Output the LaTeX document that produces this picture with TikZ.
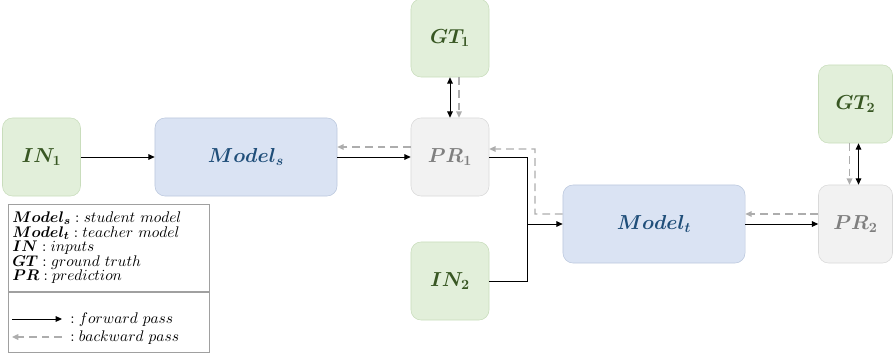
\documentclass[tikz,border=0pt]{standalone}
\usepackage{amsmath,amssymb}
\usetikzlibrary{arrows.meta}

\definecolor{ingreen}{HTML}{E2EFDA}
\definecolor{inborder}{HTML}{C9DDBC}
\definecolor{intext}{HTML}{385723}
\definecolor{modelblue}{HTML}{DAE3F3}
\definecolor{modelborder}{HTML}{BCC9DE}
\definecolor{modeltext}{HTML}{1F4E79}
\definecolor{predgray}{HTML}{F2F2F2}
\definecolor{predborder}{HTML}{D9D9D9}
\definecolor{predtext}{HTML}{7F7F7F}
\definecolor{backgray}{HTML}{ADADAD}
\definecolor{legendline}{HTML}{A0A0A0}

\begin{document}
\begin{tikzpicture}[x=0.025cm, y=-0.025cm,
	box/.style={rounded corners=0.25cm, draw, line width=0.4pt, minimum height=1.95cm,
		inner sep=0pt, font=\Large},
	inbox/.style={box, fill=ingreen, draw=inborder, text=intext, minimum width=1.95cm},
	modelbox/.style={box, fill=modelblue, draw=modelborder, text=modeltext, minimum width=4.55cm},
	predbox/.style={box, fill=predgray, draw=predborder, text=predtext, minimum width=1.95cm},
	fwd/.style={-{Triangle[length=4.5pt,width=4pt]}, line width=0.7pt, black},
	both/.style={{Triangle[length=4.5pt,width=4pt]}-{Triangle[length=4.5pt,width=4pt]}},
	bwd/.style={-{Triangle[length=4.5pt,width=4pt]}, line width=1pt, backgray,
		dash pattern=on 5.5pt off 3.5pt},
	legendtext/.style={inner sep=0pt, font=\fontsize{11}{10.4}\selectfont},
	legendbox/.style={draw=legendline, line width=0.6pt}]
	
	\useasboundingbox (0,0) rectangle (893,360);
	
	% boxes
	\node[inbox] (in1) at (41.5,157) {$\boldsymbol{IN_1}$};
	\node[modelbox] (models) at (246,157) {$\boldsymbol{Model_s}$};
	\node[predbox] (pr1) at (450,157) {$\boldsymbol{PR_1}$};
	\node[inbox] (gt1) at (450,38) {$\boldsymbol{GT_1}$};
	\node[inbox] (in2) at (450,281) {$\boldsymbol{IN_2}$};
	\node[modelbox] (modelt) at (654,224) {$\boldsymbol{Model_t}$};
	\node[predbox, minimum width=1.85cm] (pr2) at (855.5,224) {$\boldsymbol{PR_2}$};
	\node[inbox, minimum width=1.85cm] (gt2) at (855.5,104) {$\boldsymbol{GT_2}$};
	
	\coordinate (junc) at (527,224);
	\coordinate (bend) at (535,149);
	
	% forward pass
	\draw[fwd] (in1) -- (models);
	\draw[fwd] (models) -- (pr1);
	\draw[fwd, both] (gt1.south) -- (pr1.north);
	\draw[line width=0.7pt] (pr1.east) -| (junc);
	\draw[line width=0.7pt] (in2.east) -| (junc);
	\draw[fwd] (junc) -- (modelt.west);
	\draw[fwd] (modelt) -- (pr2);
	\draw[fwd, both] ([xshift=0.075cm]gt2.south) -- ([xshift=0.075cm]pr2.north);
	
	% backward pass
	\draw[bwd] ([yshift=0.25cm]pr1.west) -- ([yshift=0.25cm]models.east);
	\draw[bwd] ([xshift=0.225cm]gt1.south) -- ([xshift=0.225cm]pr1.north);
	\draw[bwd] ([yshift=0.25cm]modelt.west) -| (bend) -- ([yshift=0.2cm]pr1.east);
	\draw[bwd] ([yshift=0.25cm]pr2.west) -- ([yshift=0.25cm]modelt.east);
	\draw[bwd] ([xshift=-0.15cm]gt2.south) -- ([xshift=-0.15cm]pr2.north);
	
	% legend
	\draw[legendbox] (8,204) rectangle (209,291);
	\draw[legendbox] (8,292) rectangle (209,352);
	\node[legendtext, anchor=north west, align=left] (legend) at (12,211.5)
		{\lineskiplimit=-20pt
		$\boldsymbol{Model_s}:student\ model$\\
		$\boldsymbol{Model_t}:teacher\ model$\\
		$\boldsymbol{IN}:inputs$\\
		$\boldsymbol{GT}:ground\ truth$\\
		$\boldsymbol{PR}:prediction$};
	
	\coordinate (fwdstart) at (12,319);
	\coordinate (fwdend) at (62,319);
	\coordinate (bwdstart) at (62,337);
	\coordinate (bwdend) at (12,337);
	\draw[fwd] (fwdstart) -- (fwdend);
	\draw[bwd] (bwdstart) -- (bwdend);
	\node[legendtext, anchor=base west] (lfwd) at (70,323) {$:forward\ pass$};
	\node[legendtext, anchor=base west] (lbwd) at (70,341) {$:backward\ pass$};
\end{tikzpicture}
\end{document}
